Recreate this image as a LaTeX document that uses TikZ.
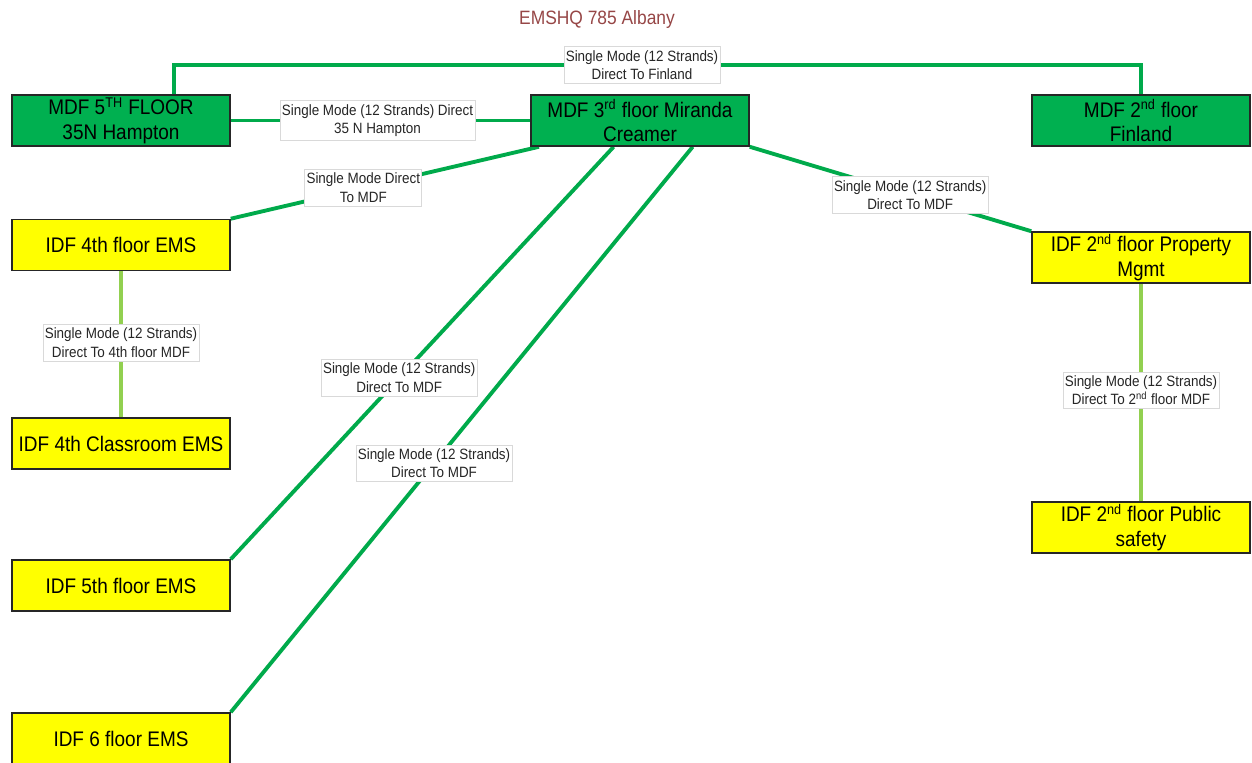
\documentclass[tikz,border=0pt]{standalone}
\usepackage{fontspec}
\setmainfont{Liberation Sans}
\newfontfamily\narrowfont[FakeStretch=0.9]{Liberation Sans}
\usepackage{tikz}
\usetikzlibrary{shapes,positioning,backgrounds,calc}

\definecolor{mdfgreen}{RGB}{0,176,80}
\definecolor{fibergreen}{RGB}{0,170,75}
\definecolor{riserlime}{RGB}{146,208,80}
\definecolor{titlered}{RGB}{150,70,70}
\definecolor{idfyellow}{RGB}{255,255,0}

\tikzset{
    mdfbox/.style={rectangle, draw=black!85, line width=0.9pt, fill=mdfgreen, minimum width=4.36cm, minimum height=1.02cm, inner sep=0pt, align=center, font=\narrowfont\fontsize{12}{14}\selectfont},
    idfbox/.style={mdfbox, fill=idfyellow},
    fiber/.style={draw=fibergreen, line width=2.2pt},
    riser/.style={draw=riserlime, line width=1.8pt},
    cablelbl/.style={rectangle, draw=black!15, line width=0.4pt, fill=white, text=black!85, inner xsep=1pt, inner ysep=2pt, align=center, font=\narrowfont\fontsize{8.5}{10.5}\selectfont}
}

\begin{document}
\begin{tikzpicture}[x=0.02cm, y=-0.02cm]
        \useasboundingbox (0,0) rectangle (1252,763);

        \node [text=titlered, font=\narrowfont\fontsize{11}{13}\selectfont] (title) at (597,20) {EMSHQ 785 Albany};

        \node [mdfbox] (mdf5) at (121,120.5) {MDF 5\textsuperscript{TH} FLOOR\\35N Hampton};
        \node [mdfbox] (mdf3) at (640,120.5) {MDF 3\textsuperscript{rd} floor Miranda\\Creamer};
        \node [mdfbox] (mdf2) at (1141,120.5) {MDF 2\textsuperscript{nd} floor\\Finland};

        \node [idfbox] (idf4) at (121,245) {IDF 4th floor EMS};
        \node [idfbox] (idf4c) at (121,443.5) {IDF 4th Classroom EMS};
        \node [idfbox] (idf5) at (121,585.5) {IDF 5th floor EMS};
        \node [idfbox] (idf6) at (121,738.5) {IDF 6 floor EMS};
        \node [idfbox] (idf2p) at (1141,257.5) {IDF 2\textsuperscript{nd} floor Property\\Mgmt};
        \node [idfbox] (idf2s) at (1141,527.5) {IDF 2\textsuperscript{nd} floor Public\\safety};

        \coordinate (bus) at (642,65);

        \begin{scope}[on background layer]
            \draw [fiber] ($(mdf5.north west)!0.74!(mdf5.north east)$) |- (bus) node [cablelbl] (lfinland) {Single Mode (12 Strands)\\Direct To Finland} -| (mdf2.north);
            \draw [fiber] (mdf5.east) -- node [cablelbl, pos=0.49] (lhampton) {Single Mode (12 Strands) Direct\\35 N Hampton} (mdf3.west);
            \draw [fiber] ($(mdf3.south west)!0.04!(mdf3.south east)$) -- node [cablelbl, pos=0.57] (lidf4) {Single Mode Direct\\To MDF} (idf4.north east);
            \draw [fiber] ($(mdf3.south west)!0.38!(mdf3.south east)$) -- node [cablelbl, pos=0.56] (lidf5) {Single Mode (12 Strands)\\Direct To MDF} (idf5.north east);
            \draw [fiber] ($(mdf3.south west)!0.74!(mdf3.south east)$) -- node [cablelbl, pos=0.56] (lidf6) {Single Mode (12 Strands)\\Direct To MDF} (idf6.north east);
            \draw [fiber] (mdf3.south east) -- node [cablelbl, pos=0.57] (lidf2p) {Single Mode (12 Strands)\\Direct To MDF} (idf2p.north west);
            \draw [riser] (idf4.south) -- node [cablelbl, pos=0.49] (lidf4c) {Single Mode (12 Strands)\\Direct To 4th floor MDF} (idf4c.north);
            \draw [riser] (idf2p.south) -- node [cablelbl, pos=0.49] (lidf2s) {Single Mode (12 Strands)\\Direct To 2\textsuperscript{nd} floor MDF} (idf2s.north);
        \end{scope}
    \end{tikzpicture}
\end{document}
